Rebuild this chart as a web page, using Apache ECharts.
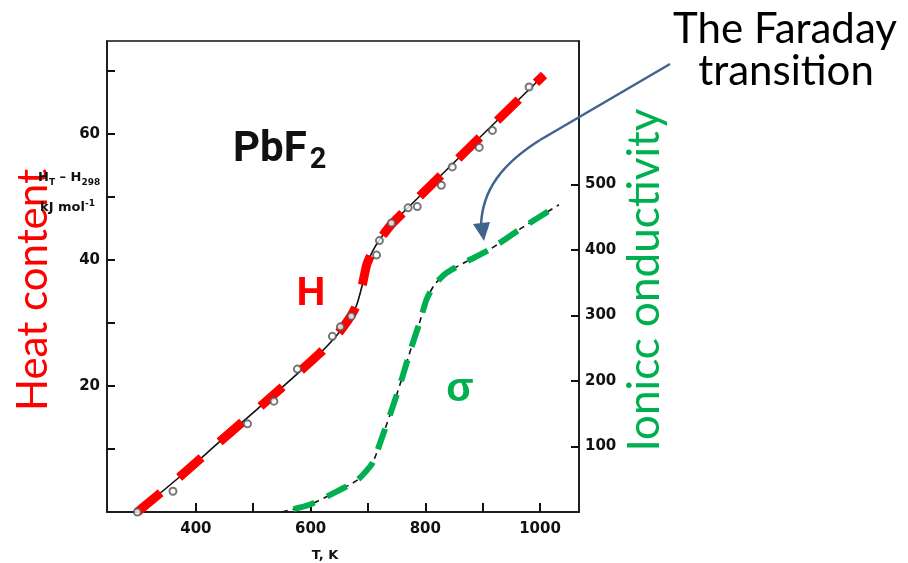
<!DOCTYPE html>
<html>
<head>
<meta charset="utf-8">
<script src="https://cdn.jsdelivr.net/npm/echarts@6.0.0/dist/echarts.min.js"></script>
<style>
  html, body { margin: 0; padding: 0; background: #fff; }
  #chart { width: 908px; height: 563px; }
</style>
</head>
<body>
<div id="chart"></div>
<script>
  // heat content curve (T in K, H_T - H_298 in kJ/mol)
  var heatT = [298, 372, 442, 523, 616, 645, 665, 680, 690, 698, 708, 720, 743, 1007]
  var heatH = [0, 5.6, 11.2, 17.6, 25.2, 28.0, 30.4, 32.8, 36.0, 39.3, 41.4, 43.2, 45.9, 69.4]

  // measured points (open circles)
  var pointT = [298, 360, 490, 536, 577, 638, 652, 671, 715, 720, 741, 770, 786, 828, 847, 894, 917, 981]
  var pointH = [0, 3.3, 14, 17.6, 22.7, 27.9, 29.4, 31.1, 40.8, 43.1, 45.9, 48.3, 48.5, 51.9, 54.8, 57.9, 60.6, 67.5]

  // ionic conductivity curve (right axis)
  var sigmaT = [550, 598, 645, 682, 708, 725, 743, 760, 776, 790, 802, 816, 837, 871, 911, 969, 1033]
  var sigmaV = [0, 11, 31, 49, 75, 115, 160, 206, 252, 289, 324, 347, 365, 382, 400, 434, 469]

  // axis ticks / labels
  var tempLabels = [400, 600, 800, 1000]
  var tempTicks = [400, 500, 600, 700, 800, 900, 1000]
  var heatLabels = [20, 40, 60]
  var heatTicks = [10, 20, 30, 40, 50, 60, 70]
  var sigmaLabels = [100, 200, 300, 400, 500]

  var pairs = function (xs, ys) {
    return xs.map(function (x, i) { return [x, ys[i]] })
  }
  var plain = function (v) { return String(v) }

  var axisFont = { color: '#111', fontFamily: 'DejaVu Sans', fontWeight: 'bold', fontSize: 15, formatter: plain }
  var bigFont = 'Lato'
  var arrowColor = '#41648f'

  var myChart = echarts.init(document.getElementById('chart'))

  var option = {
    animation: false,
    backgroundColor: '#fff',
    grid: {
      left: 107, right: 329, top: 41, bottom: 51,
      show: true, borderColor: '#111', borderWidth: 1.5,
      outerBoundsMode: 'none'
    },
    xAxis: {
      type: 'value', min: 245, max: 1068,
      axisLine: { lineStyle: { color: '#111', width: 1.5 } },
      axisTick: { inside: true, length: 9, customValues: tempTicks, lineStyle: { color: '#111', width: 2 } },
      axisLabel: Object.assign({ customValues: tempLabels, margin: 10 }, axisFont),
      splitLine: { show: false }
    },
    yAxis: [
      {
        type: 'value', min: 0, max: 74.8,
        axisLine: { show: true, lineStyle: { color: '#111', width: 1.5 } },
        axisTick: { show: true, inside: true, length: 8, customValues: heatTicks, lineStyle: { color: '#111', width: 2 } },
        axisLabel: Object.assign({ customValues: heatLabels, margin: 7 }, axisFont),
        splitLine: { show: false }
      },
      {
        type: 'value', min: 0, max: 719, position: 'right',
        axisLine: { show: true, lineStyle: { color: '#111', width: 1.5 } },
        axisTick: { show: true, inside: true, length: 8, customValues: sigmaLabels, lineStyle: { color: '#111', width: 2 } },
        axisLabel: Object.assign({ customValues: sigmaLabels, margin: 6 }, axisFont),
        splitLine: { show: false }
      }
    ],
    series: [
      {
        name: 'H line', type: 'line', data: pairs(heatT, heatH),
        smooth: 0.2, symbol: 'none',
        lineStyle: { color: '#111', width: 1.6 }, z: 2
      },
      {
        name: 'H overlay', type: 'line', data: pairs(heatT, heatH),
        smooth: 0.2, symbol: 'none',
        lineStyle: { color: '#ff0000', width: 9, type: [30, 24], cap: 'butt' }, z: 3
      },
      {
        name: 'H points', type: 'scatter', data: pairs(pointT, pointH),
        symbol: 'emptyCircle', symbolSize: 7,
        itemStyle: { color: '#555', borderWidth: 1.3 }, z: 5
      },
      {
        name: 'sigma line', type: 'line', yAxisIndex: 1, data: pairs(sigmaT, sigmaV),
        smooth: 0.2, symbol: 'none',
        lineStyle: { color: '#111', width: 1.6, type: [6, 5] }, z: 2
      },
      {
        name: 'sigma overlay', type: 'line', yAxisIndex: 1, data: pairs(sigmaT, sigmaV),
        smooth: 0.2, symbol: 'none',
        lineStyle: { color: '#00b050', width: 6, type: [22, 14], cap: 'butt', dashOffset: -12 }, z: 4
      }
    ],
    graphic: [
      {
        type: 'text', x: 33, y: 290, rotation: Math.PI / 2, z: 10,
        style: { text: 'Heat content', fill: '#ff0000', font: '42px ' + bigFont, align: 'center', verticalAlign: 'middle' }
      },
      {
        type: 'text', x: 645, y: 280, rotation: Math.PI / 2, z: 10,
        style: { text: 'Ionicc onductivity', fill: '#00b050', font: '44px ' + bigFont, align: 'center', verticalAlign: 'middle' }
      },
      {
        type: 'text', x: 38, y: 178, z: 11,
        style: {
          text: '{b|H}{s|T}{b| – H}{s|298}', align: 'left', verticalAlign: 'middle',
          rich: {
            b: { fontFamily: 'DejaVu Sans', fontWeight: 'bold', fontSize: 13, fill: '#111' },
            s: { fontFamily: 'DejaVu Sans', fontWeight: 'bold', fontSize: 9, fill: '#111', padding: [9, 0, 0, 0] }
          }
        }
      },
      {
        type: 'text', x: 40, y: 208, z: 11,
        style: {
          text: '{b|kJ mol}{s|-1}', align: 'left', verticalAlign: 'middle',
          rich: {
            b: { fontFamily: 'DejaVu Sans', fontWeight: 'bold', fontSize: 13, fill: '#111' },
            s: { fontFamily: 'DejaVu Sans', fontWeight: 'bold', fontSize: 9, fill: '#111', padding: [0, 0, 9, 0] }
          }
        }
      },
      {
        type: 'text', x: 233, y: 150, z: 11,
        style: {
          text: '{b|PbF}{s|2}', align: 'left', verticalAlign: 'middle',
          rich: {
            b: { fontFamily: 'Roboto', fontWeight: 'bold', fontSize: 42, fill: '#111' },
            s: { fontFamily: 'Roboto', fontWeight: 'bold', fontSize: 29, fill: '#111', padding: [22, 0, 0, 3] }
          }
        }
      },
      {
        type: 'text', x: 311, y: 294, z: 11,
        style: { text: 'H', fill: '#ff0000', font: 'bold 40px Liberation Sans', align: 'center', verticalAlign: 'middle' }
      },
      {
        type: 'text', x: 460, y: 390, z: 11,
        style: { text: 'σ', fill: '#00b050', font: 'bold 40px Liberation Sans', align: 'center', verticalAlign: 'middle' }
      },
      {
        type: 'text', x: 325, y: 556, z: 11,
        style: { text: 'T, K', fill: '#111', font: 'bold 13px DejaVu Sans', align: 'center', verticalAlign: 'middle' }
      },
      {
        type: 'text', x: 785, y: 29, z: 11,
        style: { text: 'The Faraday', fill: '#000', font: '42px ' + bigFont, align: 'center', verticalAlign: 'middle' }
      },
      {
        type: 'text', x: 786, y: 71, z: 11,
        style: { text: 'transition', fill: '#000', font: '42px ' + bigFont, align: 'center', verticalAlign: 'middle' }
      },
      {
        type: 'line', z: 12,
        shape: { x1: 670, y1: 64, x2: 540, y2: 140 },
        style: { stroke: arrowColor, lineWidth: 2.5 }
      },
      {
        type: 'bezierCurve', z: 12,
        shape: { x1: 540, y1: 140, cpx1: 502, cpy1: 164, cpx2: 482, cpy2: 190, x2: 481, y2: 226 },
        style: { fill: null, stroke: arrowColor, lineWidth: 2.5 }
      },
      {
        type: 'polygon', z: 12,
        shape: { points: [[473, 224], [490, 222], [484, 241]] },
        style: { fill: arrowColor }
      }
    ]
  }

  myChart.setOption(option)
</script>
</body>
</html>
